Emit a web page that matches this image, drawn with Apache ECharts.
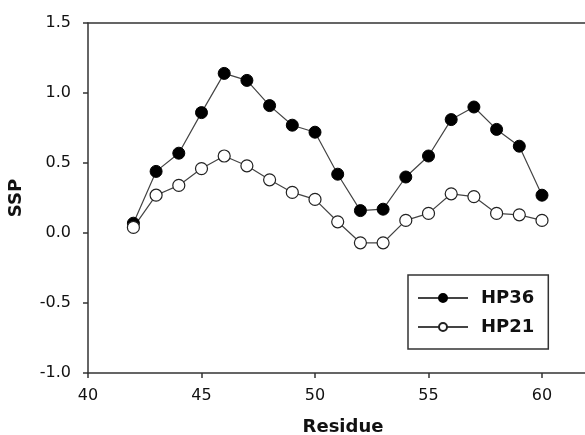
<!DOCTYPE html>
<html><head><meta charset="utf-8">
<script src="https://cdn.jsdelivr.net/npm/echarts@6/dist/echarts.min.js"></script>
<style>html,body{margin:0;padding:0;background:#fff}#c{width:585px;height:435px}</style>
</head><body><div id="c"></div>
<script>
const residues = [42,43,44,45,46,47,48,49,50,51,52,53,54,55,56,57,58,59,60];
const hp36 = [0.07,0.44,0.57,0.86,1.14,1.09,0.91,0.77,0.72,0.42,0.16,0.17,0.40,0.55,0.81,0.90,0.74,0.62,0.27];
const hp21 = [0.04,0.27,0.34,0.46,0.55,0.48,0.38,0.29,0.24,0.08,-0.07,-0.07,0.09,0.14,0.28,0.26,0.14,0.13,0.09];
const xTicks = [40,45,50,55,60];
const yTicks = [-1.0,-0.5,0.0,0.5,1.0,1.5];

const font = '"DejaVu Sans", sans-serif';
const xMax = 40 + 510 / 22.7;
const chart = echarts.init(document.getElementById('c'));
chart.setOption({
  animation: false,
  grid: {left: 88, top: 23, width: 510, height: 350, containLabel: false, outerBoundsMode: 'none', show: false},
  xAxis: [{
    type: 'value', min: 40, max: xMax, interval: 5,
    name: 'Residue', nameLocation: 'middle', nameGap: 45,
    nameTextStyle: {fontFamily: font, fontWeight: 'bold', fontSize: 18, color: '#111'},
    axisLine: {onZero: false, lineStyle: {color: '#333', width: 1.5}},
    axisTick: {inside: false, length: 5, customValues: xTicks, lineStyle: {color: '#333', width: 1.5}},
    axisLabel: {fontFamily: font, fontSize: 16, color: '#111', margin: 15, customValues: xTicks,
      formatter: v => String(v)},
    splitLine: {show: false}
  }, {
    type: 'value', position: 'top', min: 40, max: xMax,
    axisLine: {show: true, onZero: false, lineStyle: {color: '#333', width: 1.5}},
    axisTick: {show: false}, axisLabel: {show: false}, splitLine: {show: false}
  }],
  yAxis: {
    type: 'value', min: -1.0, max: 1.5, interval: 0.5,
    name: 'SSP', nameLocation: 'middle', nameGap: 63, nameRotate: 90,
    nameTextStyle: {fontFamily: font, fontWeight: 'bold', fontSize: 18, color: '#111'},
    axisLine: {show: true, onZero: false, lineStyle: {color: '#333', width: 1.5}},
    axisTick: {show: true, inside: false, length: 5, customValues: yTicks, lineStyle: {color: '#333', width: 1.5}},
    axisLabel: {fontFamily: font, fontSize: 16, color: '#111', margin: 17, customValues: yTicks,
      formatter: v => v.toFixed(1)},
    splitLine: {show: false}
  },
  legend: {
    orient: 'vertical', left: 408, top: 275,
    padding: [14, 14, 13, 9], itemGap: 11,
    itemWidth: 50, itemHeight: 10,
    borderColor: '#333', borderWidth: 1.5,
    textStyle: {fontFamily: font, fontWeight: 'bold', fontSize: 18, color: '#111', padding: [0,0,0,8]},
    data: ['HP36', 'HP21']
  },
  series: [
    {name: 'HP36', type: 'line', data: residues.map((r,i) => [r, hp36[i]]),
     symbol: 'circle', symbolSize: 12,
     lineStyle: {color: '#444', width: 1.2},
     itemStyle: {color: '#000', borderColor: '#000', borderWidth: 1}},
    {name: 'HP21', type: 'line', data: residues.map((r,i) => [r, hp21[i]]),
     symbol: 'circle', symbolSize: 12,
     lineStyle: {color: '#444', width: 1.2},
     itemStyle: {color: '#fff', borderColor: '#222', borderWidth: 1.2}}
  ]
});
</script></body></html>
